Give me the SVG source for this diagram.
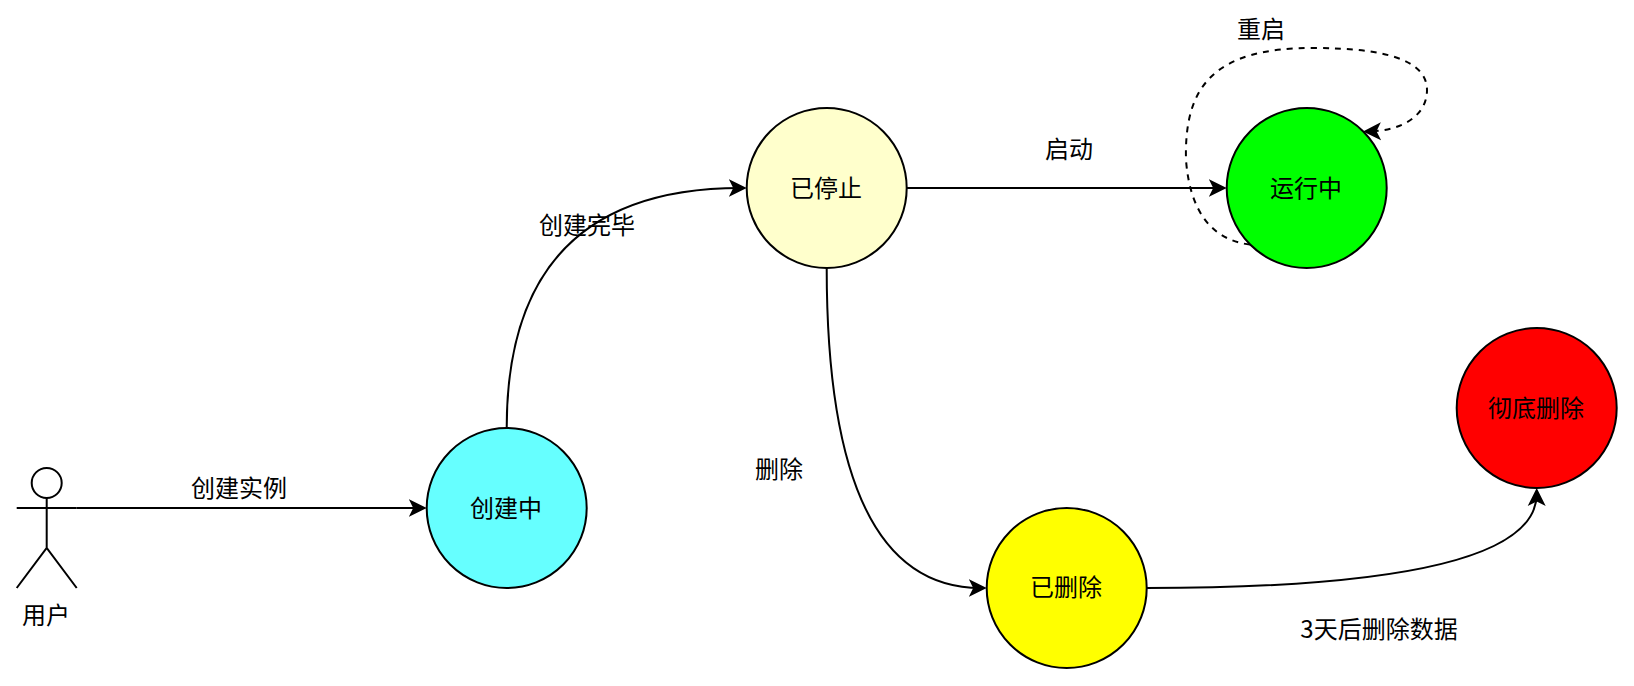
<svg xmlns="http://www.w3.org/2000/svg" width="1634" height="686" viewBox="0 0 1634 686">
<style>
text{font-family:"Noto Sans CJK SC","Noto Sans",sans-serif;font-size:24px;fill:#000;text-anchor:middle}
.n{stroke:#000;stroke-width:2}
.e{fill:none;stroke:#000;stroke-width:2;marker-end:url(#a)}
.d{stroke-dasharray:6 6}
.s{fill:none;stroke:#000;stroke-width:2}
</style>
<defs><marker id="a" markerUnits="userSpaceOnUse" markerWidth="20" markerHeight="20" refX="12" refY="10" orient="auto"><path d="M0 1L18 10L0 19L4.5 10Z" fill="#000" stroke="none"/></marker></defs>
<rect width="1634" height="686" fill="#fff"/>
<g id="connectors">
<path class="e" d="M76.7 508H420.7"/>
<path class="e" d="M506.7 428Q506.7 188 740.7 188"/>
<path class="e" d="M906.7 188H1220.7"/>
<path class="e" d="M826.7 268Q826.7 588 980.7 588"/>
<path class="e" d="M1146.7 588Q1536.7 588 1536.7 494"/>
<path class="e d" d="M1250 244.6C1212 240 1190 212 1186 160C1184 85 1215 48 1313 48C1385 48 1427 60 1427 90C1427 118 1398 131 1369 131.5"/>
</g>
<g id="actor-user"><circle class="s" cx="46.7" cy="483" r="15"/><path class="s" d="M46.7 498V548M16.7 508H76.7M16.7 588L46.7 548L76.7 588"/><text x="46" y="624">用户</text></g>
<g id="node-creating"><circle class="n" cx="506.7" cy="508" r="80" fill="#66FFFF"/><text x="506" y="517">创建中</text></g>
<g id="node-stopped"><circle class="n" cx="826.7" cy="188" r="80" fill="#FFFFCC"/><text x="826" y="197">已停止</text></g>
<g id="node-running"><circle class="n" cx="1306.7" cy="188" r="80" fill="#00FF00"/><text x="1306" y="197">运行中</text></g>
<g id="node-deleted"><circle class="n" cx="1066.7" cy="588" r="80" fill="#FFFF00"/><text x="1066" y="596">已删除</text></g>
<g id="node-purged"><circle class="n" cx="1536.7" cy="408" r="80" fill="#FF0000"/><text x="1536" y="417">彻底删除</text></g>
<g id="labels">
<text x="239" y="497">创建实例</text>
<text x="587" y="234">创建完毕</text>
<text x="1069" y="158">启动</text>
<text x="1261" y="38">重启</text>
<text x="779" y="478">删除</text>
<text x="1379" y="638">3天后删除数据</text>
</g>
</svg>
